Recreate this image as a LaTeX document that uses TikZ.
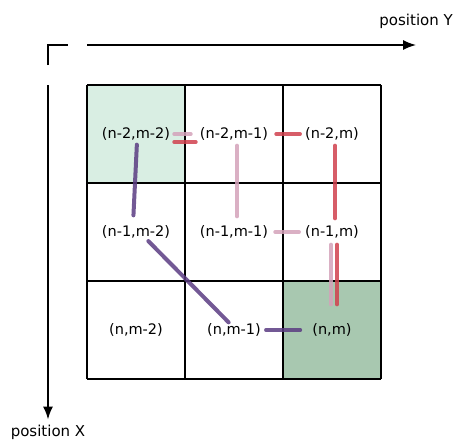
\documentclass[tikz,border=0pt]{standalone}
\usepackage{fontspec}
\setmainfont{DejaVu Sans}
\usepackage{xcolor}
\usetikzlibrary{arrows.meta}
\usetikzlibrary{math}
\definecolor{lightgreen}{HTML}{D9EEE3}
\definecolor{darkgreen}{HTML}{A8C8B0}
\definecolor{strokepurple}{HTML}{5B3C82}
\definecolor{strokepink}{HTML}{D4A2BA}
\definecolor{strokered}{HTML}{D0414E}

\begin{document}
\begin{tikzpicture}[x=1pt,y=-1pt,
  lbl/.style={font=\fontsize{14.5}{16}\selectfont, inner sep=1pt},
  axlbl/.style={font=\fontsize{15}{17}\selectfont, inner sep=0pt},
  hand/.style={line width=4, line cap=round, opacity=0.85},
  purp/.style={hand, color=strokepurple},
  pinkline/.style={hand, color=strokepink},
  redline/.style={hand, color=strokered},
  axarrow/.style={-{Latex[length=13pt,width=10pt]}, line width=1.8}]
\tikzmath{
\cell=98;
\xo=87;
\yo=85;
}
\useasboundingbox (0,0) rectangle (454,439);

\fill[lightgreen] (\xo,\yo) rectangle +(\cell,\cell);
\fill[darkgreen] (\xo+2*\cell,\yo+2*\cell) rectangle +(\cell,\cell);

\foreach \i in {0,...,3}{
\draw[line width=2] (\xo+\i*\cell,\yo) -- +(0,3*\cell);
\draw[line width=2] (\xo,\yo+\i*\cell) -- +(3*\cell,0);
}

\foreach \r/\rt in {0/n-2,1/n-1,2/n}{
\foreach \k/\kt in {0/m-2,1/m-1,2/m}{
\node[lbl] (c\r\k) at (\xo+\cell/2+\k*\cell, \yo+\cell/2+\r*\cell) {(\rt,\kt)};
}}

\draw[purp, shorten <=3, shorten >=9] ([xshift=1]c00.south) -- ([xshift=-3]c10.north);
\draw[purp, shorten <=2] (c10.-35) -- (c21.125);
\draw[purp, shorten <=4, shorten >=11] (c21.east) -- (c22.west);
\draw[pinkline, shorten <=3, shorten >=8] (c00.east) -- (c01.west);
\draw[redline, shorten <=3, shorten >=3] ([yshift=-8]c00.east) -- ([yshift=-8]c01.west);
\draw[redline, shorten <=7, shorten >=4] (c01.east) -- (c02.west);
\draw[pinkline, shorten <=4, shorten >=8] ([xshift=3]c01.south) -- ([xshift=3]c11.north);
\draw[redline, shorten <=4, shorten >=6] ([xshift=3]c02.south) -- ([xshift=3]c12.north);
\draw[pinkline, shorten <=6, shorten >=5] (c11.east) -- (c12.west);
\draw[pinkline, shorten <=5, shorten >=18] ([xshift=-1]c12.south) -- ([xshift=-1]c22.north);
\draw[redline, shorten <=5, shorten >=18] ([xshift=5]c12.south) -- ([xshift=5]c22.north);

\draw[line width=1.8] (48,65) -- (48,45) -- (68,45);
\coordinate (ystart) at (87,45);
\coordinate (xstart) at (48,85);
\node[axlbl, anchor=east] (posy) at (453,21) {position Y};
\node[axlbl] (posx) at (48,432) {position X};
\draw[axarrow] (ystart) -- (posy.south |- ystart);
\draw[axarrow, shorten >=5] (xstart) -- (xstart |- posx.north);

\end{tikzpicture}
\end{document}
